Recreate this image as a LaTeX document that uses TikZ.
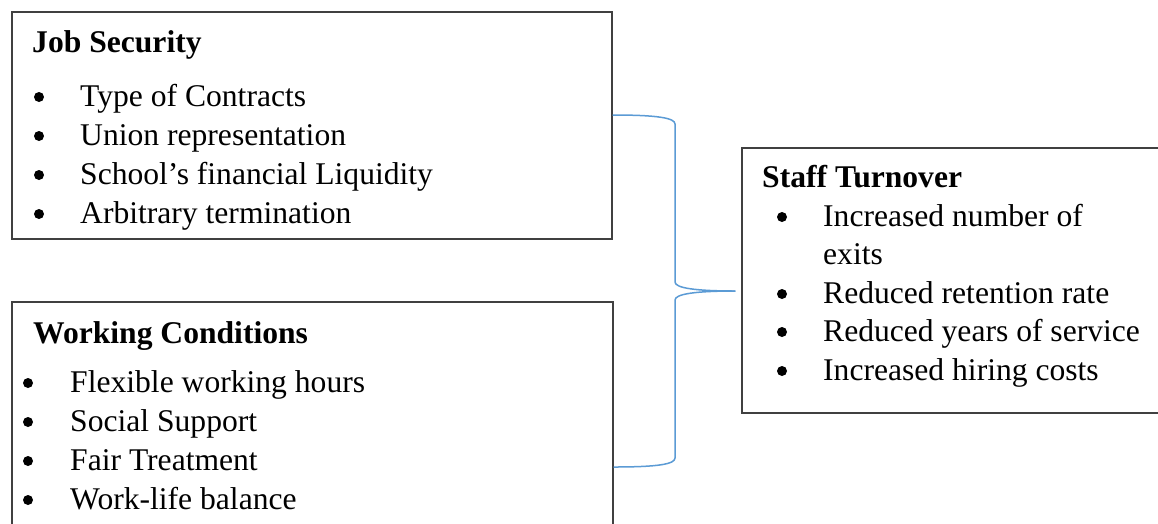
\documentclass[tikz,border=0pt]{standalone}
\usepackage{fontspec}
\setmainfont{Liberation Serif}
\definecolor{boxline}{HTML}{404040}
\definecolor{bracecol}{HTML}{5B9BD5}
\begin{document}
\begin{tikzpicture}[x=1pt,y=-1pt,
  panel/.style={draw=boxline, line width=1.4pt, rectangle, inner sep=0pt},
  head/.style={anchor=base west, inner sep=0pt, font=\fontsize{31.6}{38}\selectfont\bfseries},
  item/.style={anchor=base west, inner sep=0pt, font=\fontsize{31.6}{38}\selectfont},
  dot/.style={circle, fill=black, inner sep=0pt, minimum size=10pt},
  brace/.style={draw=bracecol, line width=1.5pt}]
\useasboundingbox (0,0) rectangle (1158,523);
\fill[white] (0,0) rectangle (1158,523);

% the three panels
\node[panel, minimum width=600pt, minimum height=227pt] (js) at (312,125.5) {};
\node[panel, minimum width=601pt, minimum height=258pt] (wc) at (312.5,431) {};
\node[panel, minimum width=438pt, minimum height=265pt] (st) at (961,280.5) {};

% Job Security
\node[head] (jsh) at (32,52) {Job Security};
\node[dot] (jsb1) at (39,97) {};  \node[item] (jsi1) at (80,106) {Type of Contracts};
\node[dot] (jsb2) at (39,136) {}; \node[item] (jsi2) at (80,145) {Union representation};
\node[dot] (jsb3) at (39,175) {}; \node[item] (jsi3) at (80,184) {School’s financial Liquidity};
\node[dot] (jsb4) at (39,214) {}; \node[item] (jsi4) at (80,223) {Arbitrary termination};

% Working Conditions
\node[head] (wch) at (33,343) {Working Conditions};
\node[dot] (wcb1) at (28,383) {}; \node[item] (wci1) at (70,392) {Flexible working hours};
\node[dot] (wcb2) at (28,422) {}; \node[item] (wci2) at (70,431) {Social Support};
\node[dot] (wcb3) at (28,461) {}; \node[item] (wci3) at (70,470) {Fair Treatment};
\node[dot] (wcb4) at (28,500) {}; \node[item] (wci4) at (70,509) {Work-life balance};

% Staff Turnover
\node[head] (sth) at (762,187) {Staff Turnover};
\node[dot] (stb1) at (782,217) {}; \node[item] (sti1) at (823,226) {Increased number of};
\node[item] (sti1b) at (823,264) {exits};
\node[dot] (stb2) at (782,294) {}; \node[item] (sti2) at (823,303) {Reduced retention rate};
\node[dot] (stb3) at (782,332) {}; \node[item] (sti3) at (823,341) {Reduced years of service};
\node[dot] (stb4) at (782,371) {}; \node[item] (sti4) at (823,380) {Increased hiring costs};

% brace joining the two panels to the outcome
\coordinate (ja) at ([yshift=10.5pt]js.east);
\coordinate (wa) at ([yshift=-36pt]wc.east);
\coordinate (tip) at ([xshift=-6pt,yshift=-10.5pt]st.west);
\coordinate (up1) at (675,124);
\coordinate (up2) at (675,282);
\coordinate (lo1) at (675,300);
\coordinate (lo2) at (675,458);
\draw[brace] (ja) .. controls +(45,0) and +(0,-6) .. (up1) -- (up2)
  .. controls +(0,6) and +(-40,0) .. (tip);
\draw[brace] (tip) .. controls +(-40,0) and +(0,-6) .. (lo1) -- (lo2)
  .. controls +(0,6) and +(45,0) .. (wa);
\end{tikzpicture}
\end{document}
